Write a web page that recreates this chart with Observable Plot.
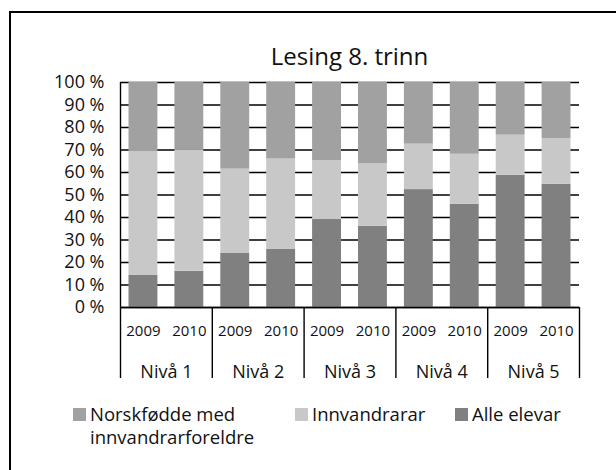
<!DOCTYPE html>
<html>
<head>
<meta charset="utf-8">
<script src="https://cdn.jsdelivr.net/npm/d3@7"></script>
<script src="https://cdn.jsdelivr.net/npm/@observablehq/plot@0.6"></script>
<style>
  html, body { margin: 0; padding: 0; background: #fff; }
  #wrap { position: relative; width: 616px; height: 470px; overflow: hidden; font-family: "Open Sans", sans-serif; color: #111; }
  #box { position: absolute; left: 9px; top: 11px; right: -10px; bottom: -10px; border-left: 2px solid #000; border-top: 2px solid #000; }
  #title { position: absolute; left: 120px; width: 459px; top: 41px; text-align: center; font-size: 24px; line-height: 30px; }
  #chart { position: absolute; left: 0; top: 70px; }
  #legend { position: absolute; top: 402px; left: 0; width: 616px; font-size: 18.5px; line-height: 23px; }
  .item { position: absolute; top: 0; display: flex; align-items: flex-start; }
  .sw { width: 13px; height: 13px; margin-top: 6px; margin-right: 4px; flex: none; }
</style>
</head>
<body>
<div id="wrap">
  <div id="box"></div>
  <div id="title"></div>
  <div id="chart"></div>
  <div id="legend"></div>
</div>
<script>
// ---- data ----
const title = "Lesing 8. trinn";
const levels = ["Nivå 1", "Nivå 2", "Nivå 3", "Nivå 4", "Nivå 5"];
const years = ["2009", "2010"];
const seriesNames = ["Alle elevar", "Innvandrarar", "Norskfødde med innvandrarforeldre"];
// one value per bar, bars ordered Nivå 1 2009, Nivå 1 2010, Nivå 2 2009, ...
const alleElevar   = [14.4, 16.1, 24.0, 25.8, 39.1, 36.1, 52.4, 45.9, 58.8, 54.8];
const innvandrarar = [54.9, 53.7, 37.5, 40.2, 26.2, 27.8, 20.2, 22.2, 17.8, 20.3];
const norskfodde   = [30.7, 30.2, 38.5, 34.0, 34.7, 36.1, 27.4, 31.9, 23.4, 24.9];
const yTicks = [0, 10, 20, 30, 40, 50, 60, 70, 80, 90, 100];
const colors = ["#808080", "#c8c8c8", "#a1a1a1"];
const legendOrder = ["Norskfødde med innvandrarforeldre", "Innvandrarar", "Alle elevar"];

// ---- build table ----
const seriesValues = [alleElevar, innvandrarar, norskfodde];
const bars = [];
levels.forEach((lv, g) => years.forEach((yr, k) => bars.push({ i: g * years.length + k, level: lv, year: yr })));
const rows = [];
bars.forEach(b => {
  let acc = 0;
  seriesNames.forEach((s, si) => {
    const v = seriesValues[si][b.i];
    rows.push({ x1: b.i, x2: b.i + 1, y1: acc, y2: acc + v, series: s });
    acc += v;
  });
});
const groupBounds = d3.range(0, bars.length + 1, years.length);
const groups = levels.map((lv, g) => ({ level: lv, x: g * years.length + years.length / 2 }));

const plot = Plot.plot({
  width: 616,
  height: 322,
  marginLeft: 120,
  marginRight: 37,
  marginTop: 12,
  marginBottom: 85,
  style: { fontFamily: "Open Sans, sans-serif", fontSize: "17px", color: "#111", background: "transparent" },
  x: { domain: [0, bars.length], axis: null },
  y: { domain: [0, 100], axis: null },
  color: { domain: seriesNames, range: colors },
  marks: [
    Plot.ruleY(yTicks, { stroke: "#000", strokeWidth: 1.4 }),
    Plot.rect(rows, { x1: "x1", x2: "x2", y1: "y1", y2: "y2", fill: "series", insetLeft: 8.5, insetRight: 8.5 }),
    Plot.ruleY([0], { stroke: "#000", strokeWidth: 1.4 }),
    Plot.ruleX([0], { stroke: "#000", strokeWidth: 1.4 }),
    Plot.ruleX(groupBounds, { x: d => d, y1: 0, y2: 0, insetBottom: -71, stroke: "#000", strokeWidth: 1.4 }),
    Plot.axisY({ ticks: yTicks, tickFormat: d => d + " %", tickSize: 0, tickPadding: 16, fontSize: 18, fill: "#111" }),
    Plot.text(bars, { x: d => d.i + 0.5, y: 0, text: "year", dy: 24, fontSize: 15, fill: "#111" }),
    Plot.text(groups, { x: "x", y: 0, text: "level", dy: 65, fontSize: 18, fill: "#111" })
  ]
});
document.getElementById("chart").appendChild(plot);
document.getElementById("title").textContent = title;

// ---- legend (HTML below the chart) ----
const legendLeft = { "Norskfødde med innvandrarforeldre": 73, "Innvandrarar": 295, "Alle elevar": 455 };
const legendWidth = { "Norskfødde med innvandrarforeldre": 190, "Innvandrarar": 150, "Alle elevar": 150 };
const legend = document.getElementById("legend");
legendOrder.forEach(name => {
  const item = document.createElement("div");
  item.className = "item";
  item.style.left = legendLeft[name] + "px";
  item.style.width = legendWidth[name] + "px";
  const sw = document.createElement("div");
  sw.className = "sw";
  sw.style.background = colors[seriesNames.indexOf(name)];
  const tx = document.createElement("div");
  tx.textContent = name;
  item.appendChild(sw);
  item.appendChild(tx);
  legend.appendChild(item);
});
</script>
</body>
</html>
